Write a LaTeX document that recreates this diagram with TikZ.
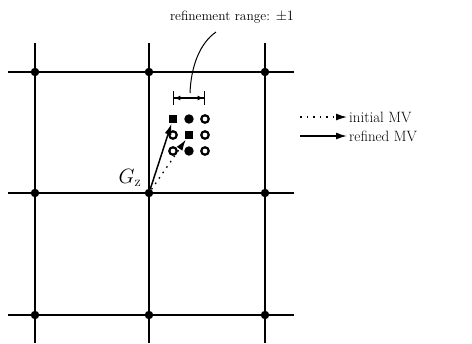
\documentclass[tikz,border=0pt]{standalone}
\usepackage{amsmath}
\usepackage{tikz}
\usetikzlibrary{arrows.meta,positioning,calc}
\tikzset{
	gridline/.style={line width=1.6pt},
	knot/.style={circle, fill, inner sep=0pt, minimum size=8.5pt},
	cand/.style={circle, draw, line width=2.2pt, inner sep=0pt, minimum size=7.5pt},
	dot/.style={circle, fill, inner sep=0pt, minimum size=9.5pt},
	best/.style={rectangle, fill, inner sep=0pt, minimum size=9pt},
	mv/.style={-{Latex[length=11pt, width=7pt]}, line width=1.5pt},
	initmv/.style={-{Latex[length=11pt, width=7pt]}, dash pattern=on 1.6pt off 5pt, line width=1.3pt},
	lbl/.style={font=\fontsize{15}{17}\selectfont, anchor=west, inner sep=2pt}
}
\begin{document}
\begin{tikzpicture}[x=1bp, y=-1bp]
	\useasboundingbox (0,0) rectangle (472,343);
	\foreach \x in {35,149,265} \draw[gridline] (\x,43) -- (\x,343);
	\foreach \y in {72,193,315} \draw[gridline] (8,\y) -- (294,\y);
	\foreach \x/\i in {35/0,149/1,265/2}
		\foreach \y/\j in {72/0,193/1,315/2}
			\node[knot] (g\i\j) at (\x,\y) {};
	\foreach \i/\j/\s in {0/0/best,1/0/dot,2/0/cand,0/1/cand,1/1/best,2/1/cand,0/2/cand,1/2/dot,2/2/cand}
		\node[\s] (c\i\j) at (173+16*\i, 119+16*\j) {};
	\node[font=\fontsize{20}{22}\selectfont] (gz) at (130,178) {$G_{\mathrm{z}}$};
	\draw[initmv] (g11) -- (c11);
	\draw[mv] (g11) -- (c00);
	% refinement range marker
	\coordinate (rl) at (173,98);
	\coordinate (rr) at (205,98);
	\coordinate (rm) at (190,93);
	\draw[{Bar[width=14pt]Latex[length=6pt, width=5pt]}-{Latex[length=6pt, width=5pt]Bar[width=14pt]}, line width=1.4pt] (rl) -- (rr);
	\node[font=\fontsize{13.5}{15}\selectfont] (range) at (232,17) {refinement range: $\pm1$};
	\coordinate (rt) at (216,32);
	\draw[line width=1pt] (rm) .. controls (191,66) and (200,43) .. (rt);
	% legend
	\coordinate (l1) at (300,117);
	\coordinate (l2) at (300,136);
	\node[lbl] (initlbl) at (347,117) {initial MV};
	\node[lbl] (reflbl) at (347,136) {refined MV};
	\draw[initmv] (l1) -- (initlbl);
	\draw[mv] (l2) -- (reflbl);
\end{tikzpicture}
\end{document}
